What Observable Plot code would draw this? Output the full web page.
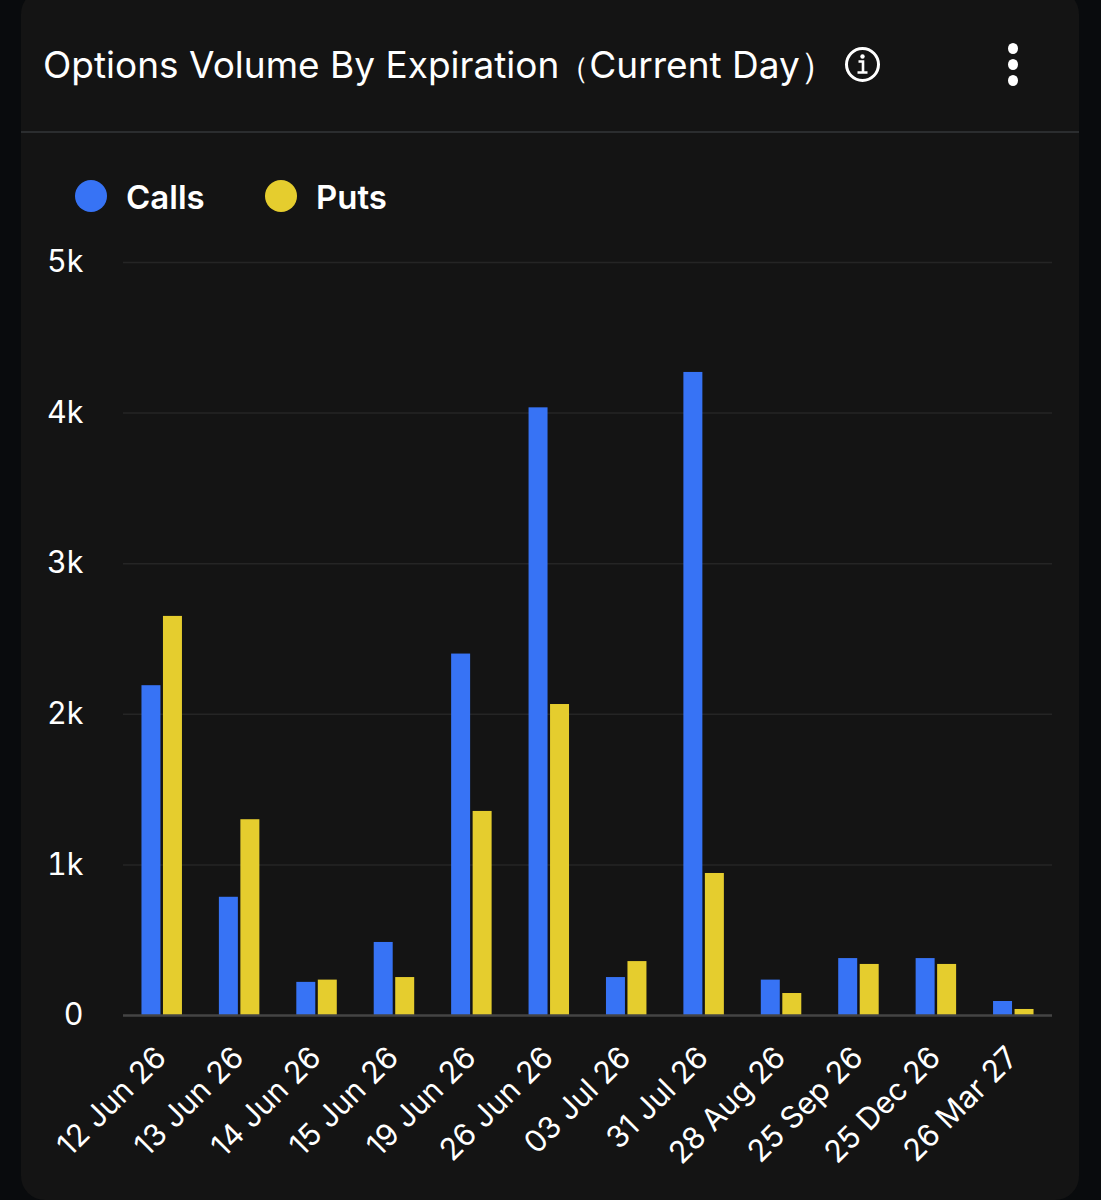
<!DOCTYPE html>
<html><head><meta charset="utf-8">
<script src="https://cdn.jsdelivr.net/npm/d3@7"></script>
<script src="https://cdn.jsdelivr.net/npm/@observablehq/plot@0.6"></script>
<style>
html,body{margin:0;padding:0;background:#090b0d;}
body{width:1101px;height:1200px;position:relative;overflow:hidden;font-family:Inter,"Open Sans",sans-serif;color:#fff;}
#card{position:absolute;left:21px;top:-10px;width:1058px;height:1210px;background:#141414;border-radius:24px;}
#title{position:absolute;left:43px;top:43px;font-size:37px;line-height:44px;font-weight:400;white-space:nowrap;}
#title span{font-size:30px;}
#info{position:absolute;left:844px;top:46px;}
#rule{position:absolute;left:21px;top:131px;width:1058px;height:2px;background:#2b2d2f;}
.dot{position:absolute;left:1008px;width:10px;height:11px;border-radius:50%;background:#fff;}
.lg{position:absolute;top:180px;width:32px;height:32px;border-radius:50%;}
.lt{position:absolute;top:177px;font-size:33px;line-height:40px;font-weight:600;}
#chart{position:absolute;left:0;top:240px;}
#chart svg{background:transparent;display:block;}
</style></head><body>
<div id="card"></div>
<div id="title">Options Volume By Expiration<span>（</span>Current Day）</div>
<svg id="info" width="37" height="37" viewBox="0 0 37 37"><circle cx="18.5" cy="18.5" r="16" fill="none" stroke="#fff" stroke-width="3"/><circle cx="18.5" cy="10.5" r="2.2" fill="#fff"/><path d="M14.5 15.5h4.5v11M13.5 26.5h10" fill="none" stroke="#fff" stroke-width="2.6"/></svg>
<div class="dot" style="top:43px"></div><div class="dot" style="top:59px"></div><div class="dot" style="top:75px"></div>
<div id="rule"></div>
<div class="lg" style="left:75px;background:#3773f5"></div><div class="lt" style="left:126px">Calls</div>
<div class="lg" style="left:265px;background:#e5cd2e"></div><div class="lt" style="left:316px">Puts</div>
<div id="chart"></div>
<script>
const expirations=["12 Jun 26","13 Jun 26","14 Jun 26","15 Jun 26","19 Jun 26","26 Jun 26","03 Jul 26","31 Jul 26","28 Aug 26","25 Sep 26","25 Dec 26","26 Mar 27"];
const calls=[2190,785,220,485,2400,4035,252,4270,235,378,378,93];
const puts=[2650,1300,235,252,1355,2065,358,943,146,339,339,40];
const seriesColors={Calls:"#3773f5",Puts:"#e5cd2e"};
const yTicks=[0,1000,2000,3000,4000,5000];
const plot=Plot.plot({
  width:1101,height:960,
  marginTop:22,marginBottom:185,marginLeft:123,marginRight:49,
  style:{background:"transparent",color:"#fff",fontFamily:"Inter, 'Open Sans', sans-serif",overflow:"visible"},
  x:{domain:expirations,paddingInner:0.477,paddingOuter:0.2385,round:false,label:null},
  y:{domain:[0,5000],label:null},
  marks:[
    Plot.ruleY(yTicks.slice(1),{stroke:"#252525",strokeWidth:1.5}),
    Plot.barY(expirations,{x:d=>d,y:(d,i)=>calls[i],fill:seriesColors.Calls,insetRight:21.5}),
    Plot.barY(expirations,{x:d=>d,y:(d,i)=>puts[i],fill:seriesColors.Puts,insetLeft:21.5}),
    Plot.ruleY([0],{stroke:"#444",strokeWidth:2.5}),
    Plot.axisY({ticks:yTicks,tickSize:0,tickPadding:40,anchor:"left",fontSize:30.5,label:null,
      tickFormat:d=>d===0?"0":d/1000+"k",fill:"#fff"}),
    Plot.axisX({anchor:"bottom",tickSize:0,tickPadding:37,dx:-1,tickRotate:-45,fontSize:30.5,label:null,fill:"#fff"})
  ]
});
document.getElementById("chart").appendChild(plot);
</script>
</body></html>
